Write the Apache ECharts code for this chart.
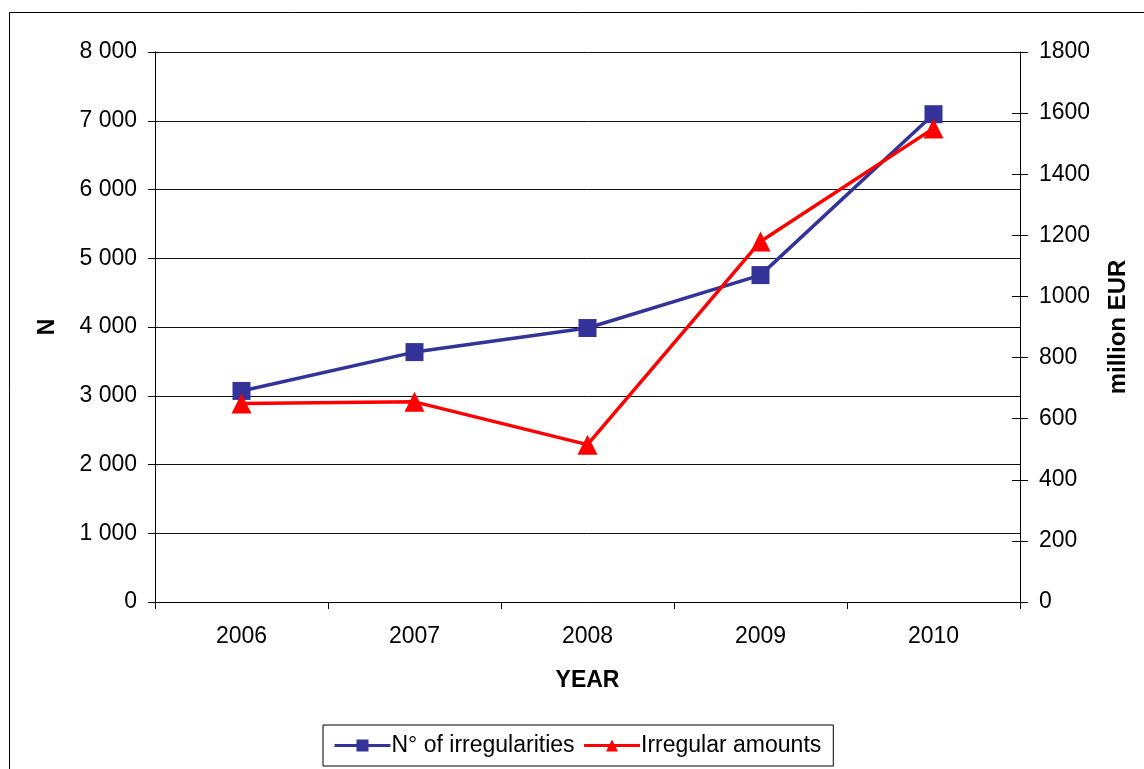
<!DOCTYPE html>
<html>
<head>
<meta charset="utf-8">
<script src="https://cdn.jsdelivr.net/npm/echarts@6/dist/echarts.min.js"></script>
<style>
html,body{margin:0;padding:0;background:#fff;}
#chart{width:1144px;height:769px;}
</style>
</head>
<body>
<div id="chart"></div>
<script>
const years = ['2006', '2007', '2008', '2009', '2010'];
const irregularitiesCount = [3070, 3635, 3985, 4755, 7095];
const irregularAmounts = [650, 655, 515, 1180, 1550];
const seriesNames = ['N° of irregularities', 'Irregular amounts'];
const leftAxisTitle = 'N';
const rightAxisTitle = 'million EUR';
const xAxisTitle = 'YEAR';

const FONT = '"Liberation Sans", Arial, sans-serif';
const chart = echarts.init(document.getElementById('chart'), null, {renderer: 'canvas'});

function spaced(v) {
  return String(v).replace(/\B(?=(\d{3})+(?!\d))/g, ' ');
}
function plain(v) {
  return String(v);
}

chart.setOption({
  animation: false,
  backgroundColor: '#fff',
  textStyle: {fontFamily: FONT, color: '#000'},
  graphic: [{
    type: 'rect',
    shape: {x: 9.5, y: 12.5, width: 1300, height: 900},
    style: {fill: 'none', stroke: '#000', lineWidth: 1},
    z: -10
  }],
  grid: {left: 155, right: 124, top: 52, bottom: 167, containLabel: false},
  legend: {
    data: seriesNames,
    left: 323,
    top: 725,
    padding: [9, 12, 9, 10],
    itemGap: 8,
    itemWidth: 56,
    itemHeight: 15,
    borderColor: '#000',
    borderWidth: 1,
    lineStyle: {width: 3},
    textStyle: {fontFamily: FONT, fontSize: 23, color: '#000', padding: [0, 0, 0, -4]}
  },
  xAxis: {
    type: 'category',
    data: years,
    boundaryGap: true,
    name: xAxisTitle,
    nameLocation: 'middle',
    nameGap: 67,
    nameTextStyle: {fontFamily: FONT, fontSize: 23, fontWeight: 'bold', color: '#000'},
    axisLine: {lineStyle: {color: '#000', width: 1}},
    axisTick: {show: true, length: 7, alignWithLabel: false, lineStyle: {color: '#000'}},
    axisLabel: {fontFamily: FONT, fontSize: 23, color: '#000', margin: 23},
    splitLine: {show: false}
  },
  yAxis: [{
    type: 'value',
    position: 'left',
    min: 0, max: 8000, interval: 1000,
    name: leftAxisTitle,
    nameLocation: 'middle',
    nameGap: 96,
    nameRotate: 90,
    nameTextStyle: {fontFamily: FONT, fontSize: 23, fontWeight: 'bold', color: '#000'},
    axisLine: {show: true, lineStyle: {color: '#000', width: 1}},
    axisTick: {show: true, length: 7, lineStyle: {color: '#000'}},
    axisLabel: {fontFamily: FONT, fontSize: 23, color: '#000', margin: 18, formatter: spaced},
    splitLine: {show: true, lineStyle: {color: '#111', width: 1}}
  }, {
    type: 'value',
    position: 'right',
    min: 0, max: 1800, interval: 200,
    name: rightAxisTitle,
    nameLocation: 'middle',
    nameGap: 86,
    nameRotate: 90,
    nameTextStyle: {fontFamily: FONT, fontSize: 24, fontWeight: 'bold', color: '#000'},
    axisLine: {show: true, lineStyle: {color: '#000', width: 1}},
    axisTick: {show: true, length: 8, lineStyle: {color: '#000'}},
    axisLabel: {fontFamily: FONT, fontSize: 23, color: '#000', margin: 19, formatter: plain},
    splitLine: {show: false}
  }, {
    type: 'value',
    position: 'right',
    min: 0, max: 1800, interval: 200,
    axisLine: {show: false},
    axisTick: {show: true, inside: true, length: 8, lineStyle: {color: '#000'}},
    axisLabel: {show: false},
    splitLine: {show: false}
  }],
  series: [{
    name: seriesNames[0],
    type: 'line',
    yAxisIndex: 0,
    data: irregularitiesCount,
    symbol: 'rect',
    symbolSize: 18,
    color: '#333399',
    lineStyle: {color: '#333399', width: 3.5},
    itemStyle: {color: '#333399'},
    z: 3
  }, {
    name: seriesNames[1],
    type: 'line',
    yAxisIndex: 1,
    data: irregularAmounts,
    symbol: 'triangle',
    symbolSize: 20,
    color: '#ff0000',
    lineStyle: {color: '#ff0000', width: 3.5},
    itemStyle: {color: '#ff0000'},
    z: 4
  }]
});
</script>
</body>
</html>
